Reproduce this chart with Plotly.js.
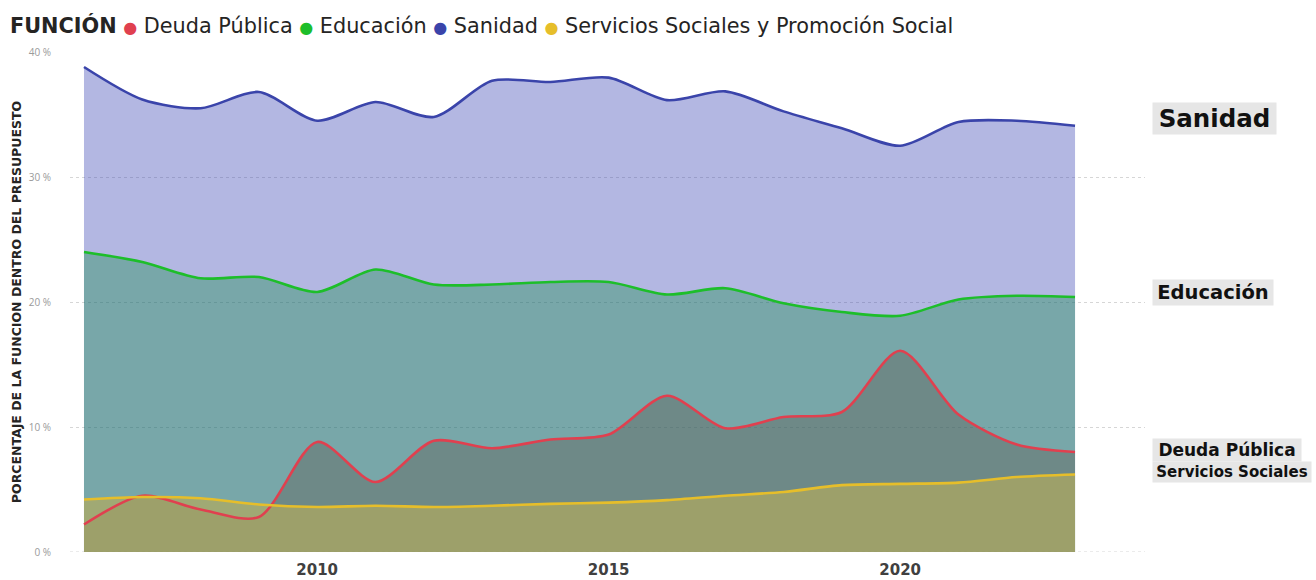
<!DOCTYPE html>
<html>
<head>
<meta charset="utf-8">
<script src="https://cdn.plot.ly/plotly-3.0.1.min.js"></script>
<style>html,body{margin:0;padding:0;background:#fff;}#chart{width:1316px;height:580px;}</style>
</head>
<body>
<div id="chart"></div>
<script>
// ---- data ----
const years = [2006,2007,2008,2009,2010,2011,2012,2013,2014,2015,2016,2017,2018,2019,2020,2021,2022,2023];
const sanidad   = [38.8,36.2,35.5,36.8,34.5,36.0,34.8,37.7,37.6,37.95,36.15,36.85,35.25,33.9,32.5,34.4,34.5,34.1];
const educacion = [24.0,23.2,21.9,22.0,20.8,22.6,21.4,21.4,21.6,21.6,20.6,21.1,19.9,19.2,18.9,20.2,20.5,20.4];
const deuda     = [2.2,4.5,3.4,2.8,8.8,5.6,8.9,8.3,9.0,9.4,12.5,9.9,10.8,11.2,16.1,11.0,8.6,8.0];
const servicios = [4.2,4.4,4.3,3.8,3.6,3.7,3.6,3.7,3.85,3.95,4.15,4.5,4.8,5.35,5.45,5.55,6.0,6.2];

const legendTitle = "FUNCIÓN";
const seriesNames = ["Deuda Pública","Educación","Sanidad","Servicios Sociales y Promoción Social"];
const endLabels = ["Sanidad","Educación","Deuda Pública","Servicios Sociales"];
const yTitle = "PORCENTAJE DE LA FUNCION DENTRO DEL PRESUPUESTO";

// ---- styles ----
const lineColors = {deuda:"#E0404F", educacion:"#1DBE2A", sanidad:"#3A44AA", servicios:"#E6BE2A"};
const fillColors = {
  sanidad:"rgba(60,70,180,0.39)",
  educacion:"rgba(0,136,56,0.33)",
  deuda:"rgba(95,93,86,0.4)",
  servicios:"rgba(177,169,94,0.7)"
};
const FONT = "'DejaVu Sans', 'Open Sans', sans-serif";
const shape = {shape:"spline", smoothing:0.8};

function fillTrace(y, key){
  return {x:years, y:y, type:"scatter", mode:"lines", fill:"tozeroy",
    fillcolor:fillColors[key], line:Object.assign({width:0, color:fillColors[key]}, shape),
    hoverinfo:"skip", showlegend:false};
}
function lineTrace(y, key, name){
  return {x:years, y:y, type:"scatter", mode:"lines", name:name,
    line:Object.assign({width:2.6, color:lineColors[key]}, shape), showlegend:false};
}

const traces = [
  fillTrace(sanidad,"sanidad"),
  fillTrace(educacion,"educacion"),
  fillTrace(deuda,"deuda"),
  fillTrace(servicios,"servicios"),
  lineTrace(sanidad,"sanidad",seriesNames[2]),
  lineTrace(educacion,"educacion",seriesNames[1]),
  lineTrace(deuda,"deuda",seriesNames[0]),
  lineTrace(servicios,"servicios",seriesNames[3])
];

// legend built as one text line
const dotCols = [lineColors.deuda, lineColors.educacion, lineColors.sanidad, lineColors.servicios];
let legText = "<b>" + legendTitle + "</b>";
seriesNames.forEach((n,i)=>{
  legText += " <span style='color:" + dotCols[i] + ";font-size:16px'>●</span> " + n;
});

const lastIdx = years.length - 1;
const endVals = [sanidad[lastIdx], educacion[lastIdx], deuda[lastIdx], servicios[lastIdx]];
const endSizes = [24.5, 19.5, 17, 15];
const endShift = [7, 5, 2, 3];
const endWidths = [121, 118, 146, 156];

const annotations = [
  {xref:"paper", yref:"paper", x:0, y:1, xshift:-62, yshift:27, xanchor:"left", yanchor:"middle",
   text:legText, showarrow:false, font:{family:FONT, size:20.8, color:"#252423"}}
];
endLabels.forEach((t,i)=>{
  annotations.push({xref:"paper", yref:"y", x:1, y:endVals[i], xshift:7, yshift:endShift[i],
    xanchor:"left", yanchor:"middle", text:"<b>"+t+"</b>", showarrow:false,
    bgcolor:"#E6E6E6", borderpad:1, width:endWidths[i], align:"center",
    font:{family:FONT, size:endSizes[i], color:"#111"}});
});

const layout = {
  width:1316, height:580,
  margin:{l:70, r:171, t:52, b:28},
  paper_bgcolor:"#fff", plot_bgcolor:"#fff",
  font:{family:FONT},
  xaxis:{range:[2005.76, 2024.2], tick0:2010, dtick:5, showgrid:false, zeroline:false,
    showline:false, ticks:"", ticklabelstandoff:7,
    tickfont:{family:FONT, size:15, color:"#404040", weight:"bold"},
    fixedrange:true},
  yaxis:{range:[0,40], dtick:10, ticksuffix: " %", showgrid:true, gridcolor:"#D6D6D6",
    griddash:"dot", gridwidth:1, zeroline:false, showline:false, ticks:"",
    ticklabelstandoff:18,
    tickfont:{family:"'Open Sans', sans-serif", size:10, color:"#9A9A9A"},
    title:{text:yTitle, standoff:4, font:{family:FONT, size:12.5, color:"#252423", weight:"bold"}},
    automargin:false, fixedrange:true},
  shapes:[{type:"line", xref:"paper", yref:"y", x0:0, x1:1, y0:0, y1:0,
    line:{color:"#D6D6D6", width:1, dash:"dot"}, layer:"below"}],
  annotations:annotations,
  showlegend:false
};

Plotly.newPlot("chart", traces, layout, {displayModeBar:false, staticPlot:true});
</script>
</body>
</html>
